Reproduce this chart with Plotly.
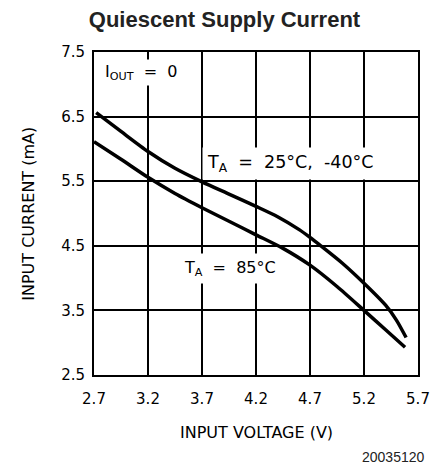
import plotly.graph_objects as go

# Data
v_25 = [2.72, 2.95, 3.2, 3.45, 3.7, 3.95, 4.2, 4.4, 4.6, 4.7, 4.8, 5.0, 5.2, 5.4, 5.5, 5.59]
i_25 = [6.56, 6.27, 5.96, 5.70, 5.49, 5.30, 5.11, 4.95, 4.75, 4.63, 4.50, 4.23, 3.92, 3.58, 3.35, 3.08]

v_85 = [2.7, 2.95, 3.2, 3.45, 3.7, 3.95, 4.2, 4.45, 4.7, 4.95, 5.2, 5.4, 5.58]
i_85 = [6.11, 5.84, 5.56, 5.31, 5.09, 4.88, 4.67, 4.46, 4.20, 3.87, 3.50, 3.20, 2.93]

x_ticks = [2.7, 3.2, 3.7, 4.2, 4.7, 5.2, 5.7]
x_tick_labels = ["2.7", "3.2", "3.7", "4.2", "4.7", "5.2", "5.7"]
y_ticks = [2.5, 3.5, 4.5, 5.5, 6.5, 7.5]
y_tick_labels = ["2.5", "3.5", "4.5", "5.5", "6.5", "7.5"]

FONT = "DejaVu Sans"
NB = "\u00a0"

fig = go.Figure()
for v, i in [(v_25, i_25), (v_85, i_85)]:
    fig.add_trace(go.Scatter(x=v, y=i, mode="lines",
                             line=dict(color="black", width=3.5, shape="spline", smoothing=0.7),
                             showlegend=False, hoverinfo="skip"))

axis_common = dict(showgrid=True, gridcolor="black", gridwidth=1.5,
                   showline=True, linecolor="black", linewidth=2, mirror=True,
                   zeroline=False, ticks="", tickfont=dict(family=FONT, size=15, color="black"))

# page body has an 8px margin, so the figure is 8px smaller and shifted
fig.update_layout(
    width=433, height=460,
    margin=dict(l=86, r=23, t=44, b=93),
    paper_bgcolor="white", plot_bgcolor="white",
    title=dict(text="<b>Quiescent Supply Current</b>", x=0.5, xanchor="center",
               y=0.975, yanchor="middle", yref="container",
               font=dict(family="Liberation Sans", size=22, color="#222222")),
    xaxis=dict(range=[2.7, 5.7], tickvals=x_ticks, ticktext=x_tick_labels,
               ticklabelstandoff=9, **axis_common),
    yaxis=dict(range=[2.5, 7.5], tickvals=y_ticks, ticktext=y_tick_labels,
               ticklabelstandoff=4, **axis_common),
)

annots = [
    dict(x=2.775, y=7.18, xref="x", yref="y", xanchor="left", yanchor="middle",
         text=f"I<sub>OUT</sub>{NB} ={NB} 0", font=dict(family=FONT, size=16, color="black"),
         showarrow=False, bgcolor="white", borderpad=2),
    dict(x=3.70, y=5.77, xref="x", yref="y", xanchor="left", yanchor="middle",
         text=f"T<sub>A</sub>{NB} ={NB} 25°C,{NB} -40°C", font=dict(family=FONT, size=17.5, color="black"),
         showarrow=False, bgcolor="white", borderpad=4),
    dict(x=3.49, y=4.15, xref="x", yref="y", xanchor="left", yanchor="middle",
         text=f"T<sub>A</sub>{NB} ={NB} 85°C", font=dict(family=FONT, size=16, color="black"),
         showarrow=False, bgcolor="white", borderpad=4),
    dict(x=0.5, y=-0.1765, xref="paper", yref="paper", xanchor="center", yanchor="middle",
         text="INPUT VOLTAGE (V)", font=dict(family=FONT, size=16, color="black"), showarrow=False),
    dict(x=-0.203, y=0.5, xref="paper", yref="paper", xanchor="center", yanchor="middle",
         text="INPUT CURRENT (mA)", textangle=-90, font=dict(family=FONT, size=16, color="black"),
         showarrow=False),
    dict(x=1.0278, y=-0.254, xref="paper", yref="paper", xanchor="right", yanchor="middle",
         text="20035120", font=dict(family="Liberation Sans", size=14, color="#222222"),
         showarrow=False),
]
fig.update_layout(annotations=annots)

fig.write_html("out.html")
